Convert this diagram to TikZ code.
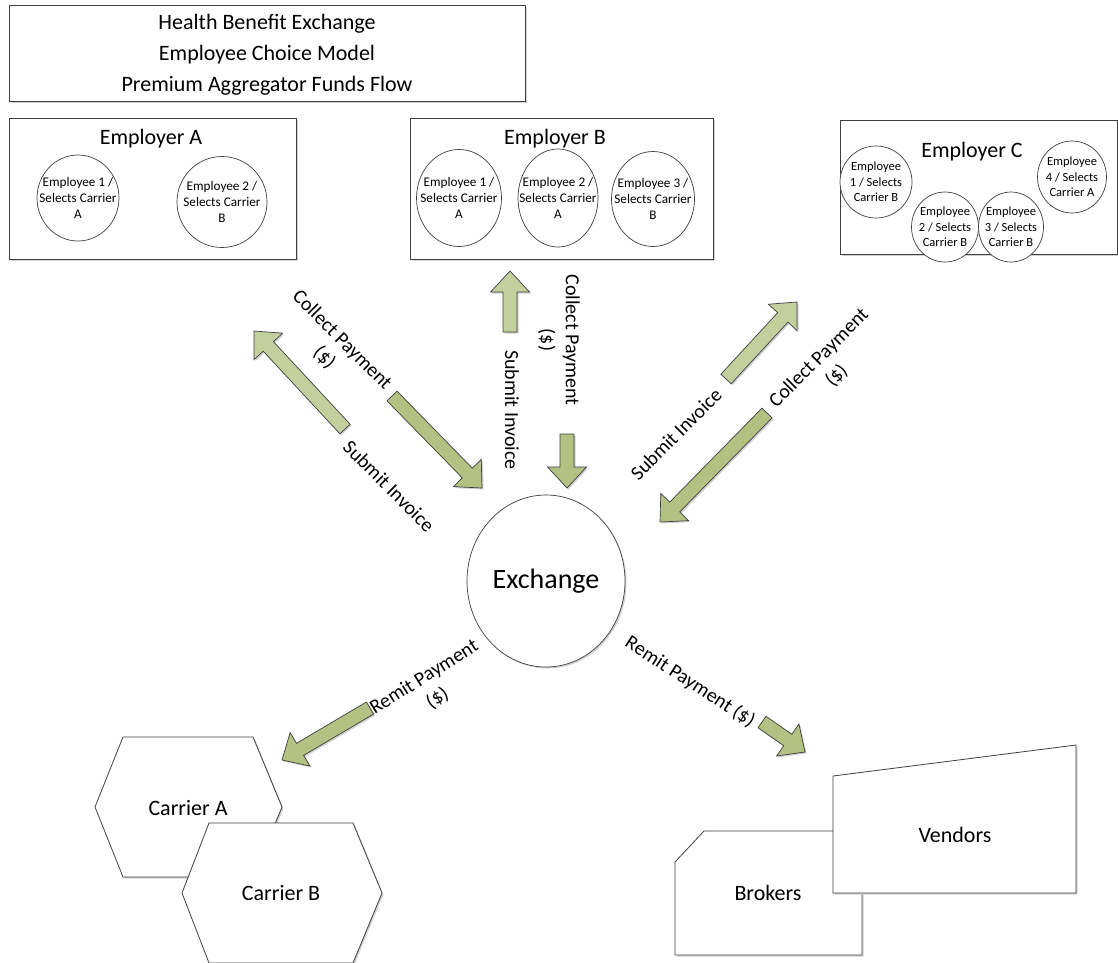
\documentclass[tikz,border=0pt]{standalone}
\usepackage{fontspec}
\setmainfont{Carlito}
\usetikzlibrary{calc,shapes.geometric}
\definecolor{edgec}{HTML}{3F3F3F}
\definecolor{arrlight}{HTML}{C3D09E}
\definecolor{arrdark}{HTML}{B3C283}
\tikzset{
  softshadow/.style={preaction={fill=black!18,transform canvas={shift={(1.5pt,-1.5pt)}}}},
  box/.style={draw=edgec,line width=0.8pt,fill=white,softshadow,inner sep=0pt},
  empshape/.style={ellipse,draw=edgec,line width=0.7pt,fill=white,inner sep=0pt},
  emptext/.style={align=center,inner sep=0pt,font=\fontsize{13.2}{16.3}\selectfont},
  emptextc/.style={align=center,inner sep=0pt,font=\fontsize{12.5}{15.5}\selectfont},
  bigtext/.style={inner sep=0pt,font=\fontsize{22}{31}\selectfont,align=center},
  lbl/.style={inner sep=0pt,align=center,font=\fontsize{20}{25}\selectfont},
  arrowbody/.style={draw=edgec,line width=0.7pt,line join=miter,softshadow},
}
\newcommand{\blockarr}[2]{%
  \coordinate (#1-b) at ($(#1-h)!21pt!(#1-t)$);
  \path[arrowbody,fill=#2]
    ($(#1-t)!7pt!90:(#1-h)$) -- ($(#1-b)!7pt!90:(#1-h)$) --
    ($(#1-b)!19.5pt!90:(#1-h)$) -- (#1-h) --
    ($(#1-b)!19.5pt!-90:(#1-h)$) -- ($(#1-b)!7pt!-90:(#1-h)$) --
    ($(#1-t)!7pt!-90:(#1-h)$) -- cycle;
}
\begin{document}
\begin{tikzpicture}[x=1pt,y=-1pt]
\useasboundingbox[fill=white] (0,0) rectangle (1118,962);

% title
\node[box,minimum width=516pt,minimum height=96pt] (title) at (267,53) {};
\node[bigtext] (titletext) at (267,55) {Health Benefit Exchange\\Employee Choice Model\\Premium Aggregator Funds Flow};

% Employer A
\node[box,minimum width=287pt,minimum height=141pt] (empA) at (152.5,188.5) {};
\node[bigtext] (empAt) at (151,139) {Employer A};
\node[empshape,minimum width=82pt,minimum height=86pt] (a1) at (78,198) {};
\node[emptext] (a1t) at (a1) {Employee 1 /\\Selects Carrier\\A};
\node[empshape,minimum width=90pt,minimum height=91pt] (a2) at (222,202) {};
\node[emptext] (a2t) at (a2) {Employee 2 /\\Selects Carrier\\B};

% Employer B
\node[box,minimum width=303pt,minimum height=141pt] (empB) at (561.5,188.5) {};
\node[bigtext] (empBt) at (555,139) {Employer B};
\node[empshape,minimum width=85pt,minimum height=97pt] (b1) at (459,198) {};
\node[emptext] (b1t) at (b1) {Employee 1 /\\Selects Carrier\\A};
\node[empshape,minimum width=80pt,minimum height=98pt] (b2) at (558,198) {};
\node[emptext] (b2t) at (b2) {Employee 2 /\\Selects Carrier\\A};
\node[empshape,minimum width=83pt,minimum height=95pt] (b3) at (653,199) {};
\node[emptext] (b3t) at (b3) {Employee 3 /\\Selects Carrier\\B};

% Employer C
\node[box,minimum width=277pt,minimum height=134pt] (empC) at (978.5,187) {};
\node[bigtext] (empCt) at (972,152) {Employer C};
\node[empshape,minimum width=72pt,minimum height=72pt] (c1) at (876,182) {};
\node[emptextc] (c1t) at (c1) {Employee\\1 / Selects\\Carrier B};
\node[empshape,minimum width=67pt,minimum height=70pt] (c2) at (945,227) {};
\node[emptextc] (c2t) at (c2) {Employee\\2 / Selects\\Carrier B};
\node[empshape,minimum width=65pt,minimum height=70pt] (c3) at (1011,227) {};
\node[emptextc] (c3t) at (c3) {Employee\\3 / Selects\\Carrier B};
\node[empshape,minimum width=69pt,minimum height=72pt] (c4) at (1072,177) {};
\node[emptextc] (c4t) at (c4) {Employee\\4 / Selects\\Carrier A};

% Exchange
\node[empshape,softshadow,minimum width=158pt,minimum height=172pt] (ex) at (546,581) {};
\node[inner sep=0pt,font=\fontsize{28}{32}\selectfont] (ext) at (ex) {Exchange};

% Carriers
\path[box] (95,807) -- (123,737) -- (253,737) -- (282,807) -- (253,877) -- (123,877) -- cycle;
\node[bigtext] (carA) at (188,808) {Carrier A};
\path[box] (182,893) -- (209,823) -- (353,823) -- (382,893) -- (353,963) -- (209,963) -- cycle;
\node[bigtext] (carB) at (281,893) {Carrier B};

% Brokers / Vendors
\path[box] (675,862) -- (704,831) -- (862,831) -- (862,955) -- (675,955) -- cycle;
\node[bigtext] (brok) at (768,893) {Brokers};
\path[box] (833,776) -- (1076,745) -- (1076,893) -- (833,893) -- cycle;
\node[bigtext] (vend) at (955,835) {Vendors};

% arrows
\coordinate (sa-t) at (345,429); \coordinate (sa-h) at (254,331);
\coordinate (ca-t) at (392,396); \coordinate (ca-h) at (482,488);
\coordinate (sb-t) at (510,332); \coordinate (sb-h) at (510,271);
\coordinate (cb-t) at (567,434); \coordinate (cb-h) at (567,488);
\coordinate (sc-t) at (726,379); \coordinate (sc-h) at (797,302);
\coordinate (cc-t) at (767,413); \coordinate (cc-h) at (660,522);
\coordinate (ra-t) at (370,708); \coordinate (ra-h) at (282,760);
\coordinate (rv-t) at (762,722); \coordinate (rv-h) at (805,752);
\blockarr{sa}{arrlight}
\blockarr{ca}{arrdark}
\blockarr{sb}{arrlight}
\blockarr{cb}{arrdark}
\blockarr{sc}{arrlight}
\blockarr{cc}{arrdark}
\blockarr{ra}{arrdark}
\blockarr{rv}{arrdark}

% labels
\node[lbl,rotate=-45] (l1) at (333,349) {Collect Payment\\(\$)};
\node[lbl,rotate=-45] (l2) at (389,486) {Submit Invoice};
\node[lbl,rotate=-90] (l3) at (512,410) {Submit Invoice};
\node[lbl,rotate=-90] (l4) at (559,340) {Collect Payment\\(\$)};
\node[lbl,rotate=45] (l5) at (676,434) {Submit Invoice};
\node[lbl,rotate=45] (l6) at (828,367) {Collect Payment\\(\$)};
\node[lbl,rotate=32] (l7) at (431,688) {Remit Payment\\(\$)};
\node[lbl,rotate=-33] (l8) at (690,682) {Remit Payment (\$)};
\end{tikzpicture}
\end{document}
